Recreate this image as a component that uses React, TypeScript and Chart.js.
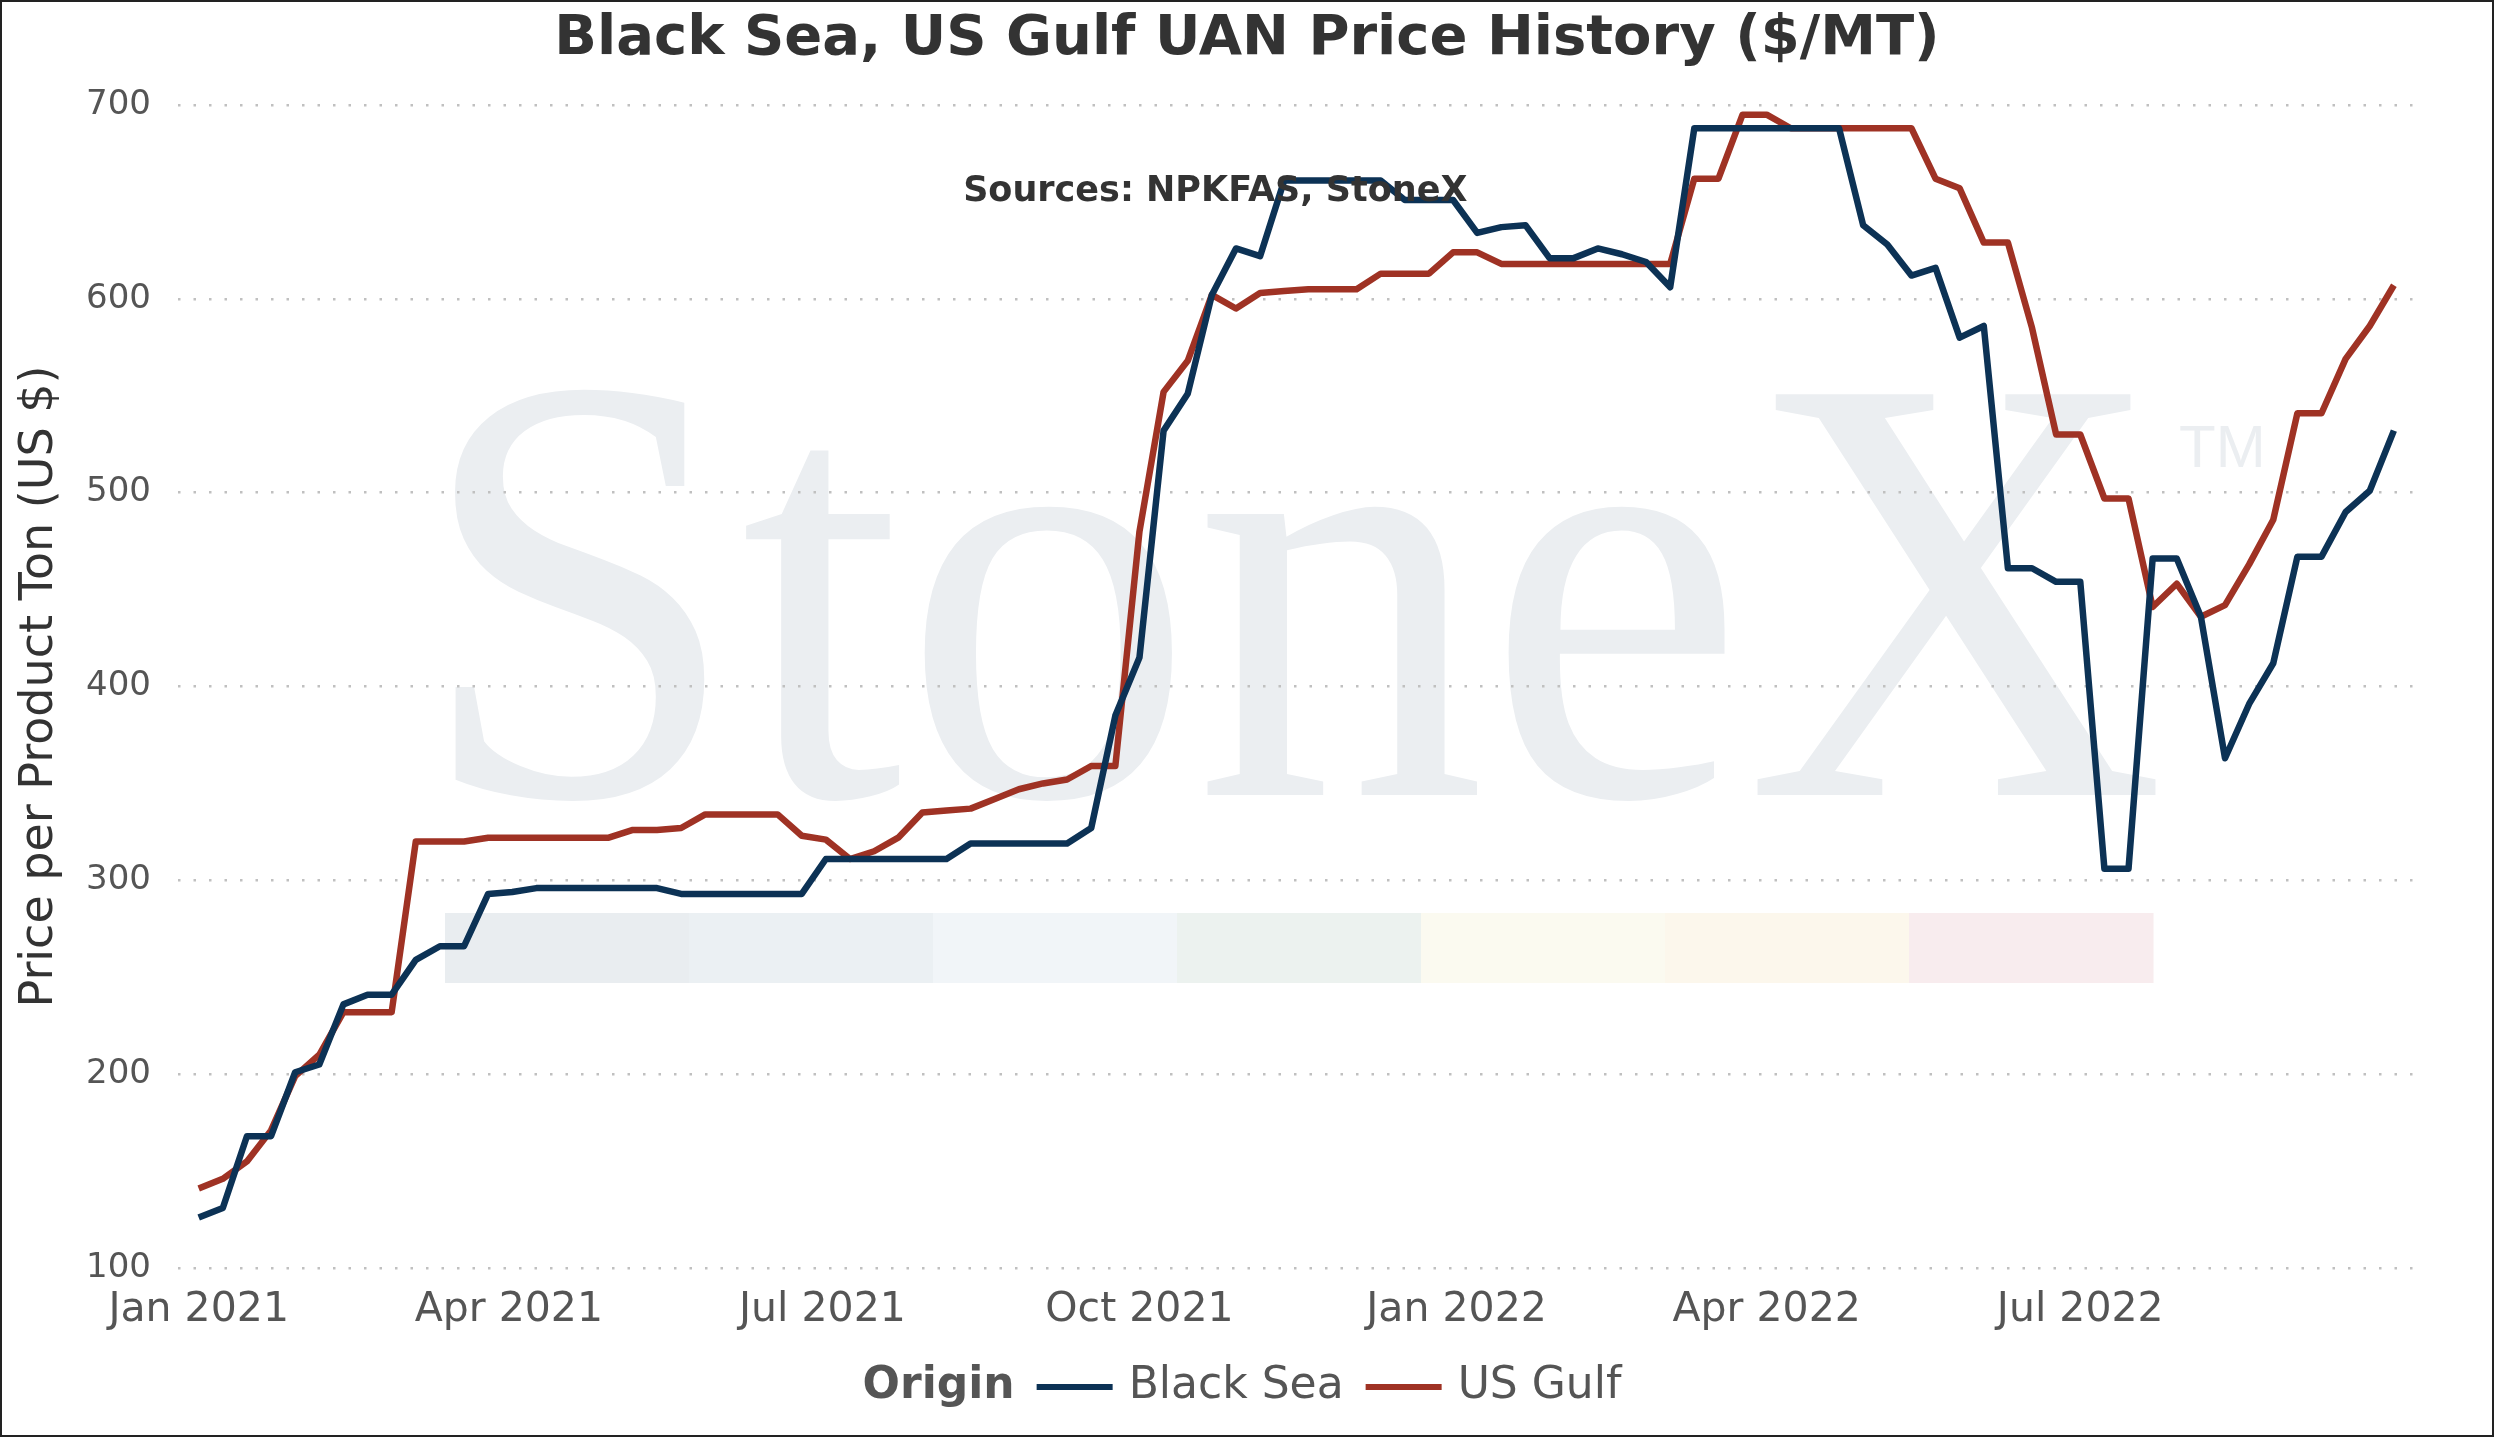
import { Chart, registerables, Plugin } from "chart.js";
import { useEffect, useRef } from "react";

Chart.register(...registerables);

// weekly prices, first week = Jan 1 2021
const blackSea = [
  126, 131, 168, 168, 201, 205, 236, 241, 241, 259,
  266, 266, 293, 294, 296, 296, 296, 296, 296, 296,
  293, 293, 293, 293, 293, 293, 311, 311, 311, 311,
  311, 311, 319, 319, 319, 319, 319, 327, 385, 415,
  532, 551, 602, 626, 622, 661, 661, 661, 661, 661,
  651, 651, 651, 634, 637, 638, 621, 621, 626, 623,
  619, 606, 688, 688, 688, 688, 688, 688, 688, 638,
  628, 612, 616, 580, 586, 461, 461, 454, 454, 306,
  306, 466, 466, 436, 363, 391, 412, 467, 467, 490,
  501, 532,
];

const usGulf = [
  141, 146, 155, 171, 199, 210, 232, 232, 232, 320,
  320, 320, 322, 322, 322, 322, 322, 322, 326, 326,
  327, 334, 334, 334, 334, 323, 321, 311, 315, 322,
  335, 336, 337, 342, 347, 350, 352, 359, 359, 480,
  552, 568, 602, 595, 603, 604, 605, 605, 605, 613,
  613, 613, 624, 624, 618, 618, 618, 618, 618, 618,
  618, 618, 662, 662, 695, 695, 688, 688, 688, 688,
  688, 688, 662, 657, 629, 629, 585, 530, 530, 497,
  497, 441, 453, 436, 442, 463, 486, 541, 541, 569,
  586, 607,
];

// day offsets from Jan 1 2021 for the quarter ticks
const tickDays = [0, 90, 181, 273, 365, 455, 546];
const tickLabels = [
  "Jan 2021",
  "Apr 2021",
  "Jul 2021",
  "Oct 2021",
  "Jan 2022",
  "Apr 2022",
  "Jul 2022",
];

const yTicks = [100, 200, 300, 400, 500, 600, 700];

const seriesNames = ["Black Sea", "US Gulf"];
const seriesColors = ["#0c3255", "#9f3224"];

const chartTitle = "Black Sea, US Gulf UAN Price History ($/MT)";
const sourceText = "Sources: NPKFAS, StoneX";

const logoBarColors = [
  "#e9edf0",
  "#ebf0f3",
  "#f1f5f8",
  "#ecf2ef",
  "#fbfaf0",
  "#fcf7ec",
  "#f8ecee",
];

const FONT = "'DejaVu Sans', Verdana, sans-serif";

// faint StoneX logo behind the plot
const watermark: Plugin<"line"> = {
  id: "watermark",
  beforeDraw(chart) {
    const { ctx, width } = chart;
    const k = width / 2490;
    ctx.save();
    ctx.fillStyle = "#ebeef1";
    ctx.font = `${Math.round(612 * k)}px 'Liberation Serif', 'DejaVu Serif', serif`;
    ctx.textBaseline = "alphabetic";
    const txt = "StoneX";
    const w = ctx.measureText(txt).width;
    const target = 1750 * k;
    ctx.translate(414 * k, 793 * k);
    ctx.scale(target / w, 1);
    ctx.fillText(txt, 0, 0);
    ctx.restore();

    ctx.save();
    ctx.fillStyle = "#ebeef1";
    ctx.font = `${Math.round(60 * k)}px 'Liberation Sans', sans-serif`;
    ctx.textBaseline = "alphabetic";
    ctx.fillText("TM", 2177 * k, 465 * k);
    const segW = 244 * k;
    logoBarColors.forEach((c, i) => {
      ctx.fillStyle = c;
      ctx.fillRect(443 * k + i * segW, 911 * k, segW + 0.5, 70 * k);
    });
    ctx.restore();
  },
};

// title centred on the whole canvas, source note inside the plot
const texts: Plugin<"line"> = {
  id: "texts",
  afterDatasetsDraw(chart) {
    const { ctx, scales, width } = chart;
    ctx.save();
    ctx.textAlign = "center";
    ctx.textBaseline = "middle";
    ctx.fillStyle = "#333333";
    ctx.font = `bold 56px ${FONT}`;
    ctx.fillText(chartTitle, width / 2, 37);
    ctx.font = `bold 35px ${FONT}`;
    ctx.fillText(
      sourceText,
      scales.x.getPixelForValue(295),
      scales.y.getPixelForValue(655)
    );
    ctx.restore();
  },
};

// inline legend: bold title followed by line swatches
const inlineLegend: Plugin<"line"> = {
  id: "inlineLegend",
  afterDraw(chart) {
    const { ctx, width, height } = chart;
    const y = height - 48;
    const swatch = 76;
    ctx.save();
    ctx.textBaseline = "middle";
    ctx.font = `bold 44px ${FONT}`;
    const titleW = ctx.measureText("Origin").width;
    ctx.font = `44px ${FONT}`;
    const labelW = chart.data.datasets.map((d) => ctx.measureText(String(d.label)).width);
    const total = titleW + labelW.reduce((a, b) => a + 22 + swatch + 16 + b, 0);
    let x = width / 2 - total / 2 - 5;
    ctx.fillStyle = "#555555";
    ctx.font = `bold 44px ${FONT}`;
    ctx.fillText("Origin", x, y);
    x += titleW;
    ctx.font = `44px ${FONT}`;
    chart.data.datasets.forEach((d, i) => {
      x += 22;
      ctx.strokeStyle = String(d.borderColor);
      ctx.lineWidth = 6;
      ctx.beginPath();
      ctx.moveTo(x, y);
      ctx.lineTo(x + swatch, y);
      ctx.stroke();
      x += swatch + 16;
      ctx.fillStyle = "#555555";
      ctx.fillText(String(d.label), x, y);
      x += labelW[i];
    });
    ctx.restore();
  },
};

const PriceHistoryChart = () => {
  const chartRef = useRef<HTMLCanvasElement>(null);
  const chartInstance = useRef<Chart<"line"> | null>(null);

  useEffect(() => {
    document.body.style.margin = "0";
    if (!chartRef.current) return;

    const series = [blackSea, usGulf];

    chartInstance.current = new Chart(chartRef.current, {
      type: "line",
      data: {
        datasets: series.map((vals, s) => ({
          label: seriesNames[s],
          data: vals.map((v, i) => ({ x: i * 7, y: v })),
          borderColor: seriesColors[s],
          backgroundColor: seriesColors[s],
          borderWidth: 6.5,
          pointRadius: 0,
          tension: 0,
          borderJoinStyle: "round" as const,
        })),
      },
      options: {
        responsive: true,
        maintainAspectRatio: false,
        animation: false,
        layout: { padding: { left: 0, right: 74, bottom: 100, top: 103 } },
        plugins: {
          legend: { display: false },
          tooltip: { enabled: false },
          title: { display: false },
        },
        scales: {
          x: {
            type: "linear",
            min: -6,
            max: 644,
            grid: { display: false },
            border: { display: false },
            afterBuildTicks: (scale) => {
              scale.ticks = tickDays.map((v) => ({ value: v }));
            },
            afterFit: (scale) => {
              scale.height = 67;
            },
            ticks: {
              color: "#555555",
              font: { family: FONT, size: 41 },
              padding: 10,
              maxRotation: 0,
              autoSkip: false,
              callback: (value) => {
                const idx = tickDays.indexOf(Number(value));
                return idx >= 0 ? tickLabels[idx] : "";
              },
            },
          },
          y: {
            type: "linear",
            min: yTicks[0],
            max: yTicks[yTicks.length - 1],
            afterBuildTicks: (scale) => {
              scale.ticks = yTicks.map((v) => ({ value: v }));
            },
            afterFit: (scale) => {
              scale.width = 176;
            },
            grid: {
              color: "#c0c0c0",
              lineWidth: 2.5,
              drawTicks: false,
            },
            border: { display: false, dash: [2.5, 13] },
            ticks: {
              color: "#555555",
              font: { family: FONT, size: 34 },
              padding: 27,
            },
            title: {
              display: true,
              text: "Price per Product Ton (US $)",
              color: "#333333",
              font: { family: FONT, size: 46 },
              padding: { top: 10, bottom: 0 },
            },
          },
        },
      },
      plugins: [watermark, texts, inlineLegend],
    });

    return () => {
      if (chartInstance.current) {
        chartInstance.current.destroy();
        chartInstance.current = null;
      }
    };
  }, []);

  return (
    <div
      style={{
        width: "100vw",
        height: "100vh",
        boxSizing: "border-box",
        border: "2px solid #222",
        background: "#ffffff",
        overflow: "hidden",
      }}
    >
      <div style={{ position: "relative", width: "100%", height: "100%" }}>
        <canvas ref={chartRef} />
      </div>
    </div>
  );
};

export default function App() {
  return <PriceHistoryChart />;
}
